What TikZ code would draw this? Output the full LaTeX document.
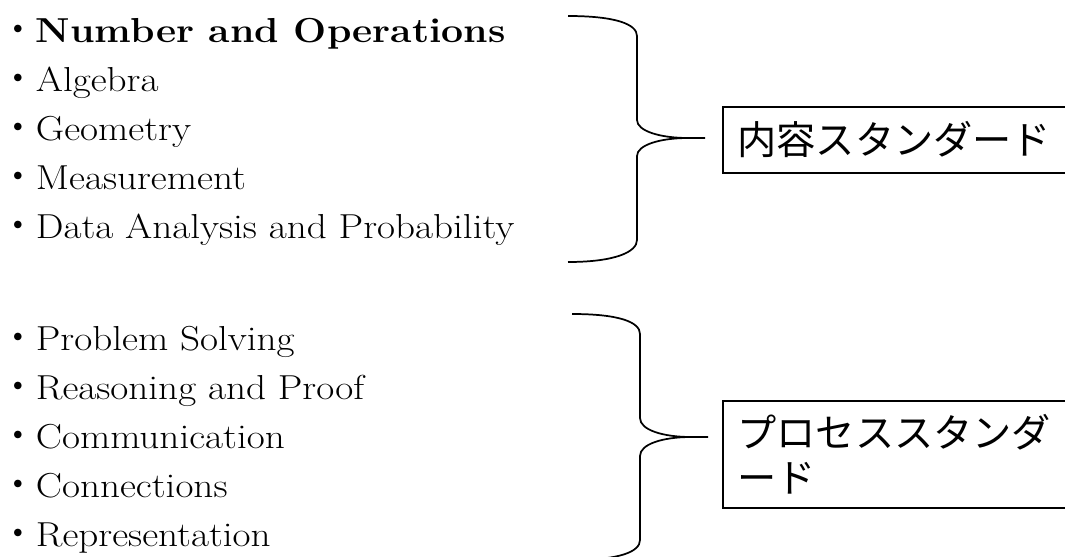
\documentclass[tikz,border=0pt]{standalone}
\usepackage{fontspec}
\setmainfont{Latin Modern Roman}[FakeStretch=1.13]
\newfontfamily\cjk{Noto Sans CJK JP}
\begin{document}
\begin{tikzpicture}[x=0.75pt,y=-0.75pt,
  item/.style={anchor=base west,inner sep=0pt,font=\fontsize{26}{32}\selectfont},
  stdbox/.style={draw,line width=1.2pt,anchor=north west,inner xsep=11pt,inner ysep=0pt,
    minimum width=270pt,align=left,text width=248pt,
    font=\cjk\fontsize{29.4}{34}\selectfont},
  brace/.style={draw,line width=1.3pt}]
\useasboundingbox (0,0) rectangle (1065,557);
% content standards list
\node[item] (n1) at (0,42) {{\cjk\fontsize{26.7}{32}\selectfont ・}\textbf{Number and Operations}};
\node[item] (n2) at (0,91) {{\cjk\fontsize{26.7}{32}\selectfont ・}Algebra};
\node[item] (n3) at (0,140) {{\cjk\fontsize{26.7}{32}\selectfont ・}Geometry};
\node[item] (n4) at (0,189) {{\cjk\fontsize{26.7}{32}\selectfont ・}Measurement};
\node[item] (n5) at (0,238) {{\cjk\fontsize{26.7}{32}\selectfont ・}Data Analysis and Probability};
% process standards list
\node[item] (p1) at (0,350) {{\cjk\fontsize{26.7}{32}\selectfont ・}Problem Solving};
\node[item] (p2) at (0,399) {{\cjk\fontsize{26.7}{32}\selectfont ・}Reasoning and Proof};
\node[item] (p3) at (0,448) {{\cjk\fontsize{26.7}{32}\selectfont ・}Communication};
\node[item] (p4) at (0,497) {{\cjk\fontsize{26.7}{32}\selectfont ・}Connections};
\node[item] (p5) at (0,546) {{\cjk\fontsize{26.7}{32}\selectfont ・}Representation};
% boxes
\node[stdbox,minimum height=49.5pt] (b1) at (722,106) {内容スタンダード};
\node[stdbox,minimum height=80.25pt] (b2) at (722,400) {プロセススタンダ\\ード};
% braces
\coordinate (t1) at (705,138);
\coordinate (t2) at (708,437);
\path[brace] (568,16) .. controls (615,16) and (637,24) .. (637,36) -- (637,120)
  .. controls (637,131) and (660,138) .. (688,138) -- (t1);
\path[brace] (688,138) .. controls (660,138) and (637,145) .. (637,156) -- (637,240)
  .. controls (637,252) and (615,262) .. (568,262);
\path[brace] (572,314) .. controls (619,314) and (640,322) .. (640,334) -- (640,418)
  .. controls (640,430) and (663,437) .. (691,437) -- (t2);
\path[brace] (691,437) .. controls (663,437) and (640,444) .. (640,456) -- (640,540)
  .. controls (640,552) and (619,560) .. (572,560);
\end{tikzpicture}
\end{document}
